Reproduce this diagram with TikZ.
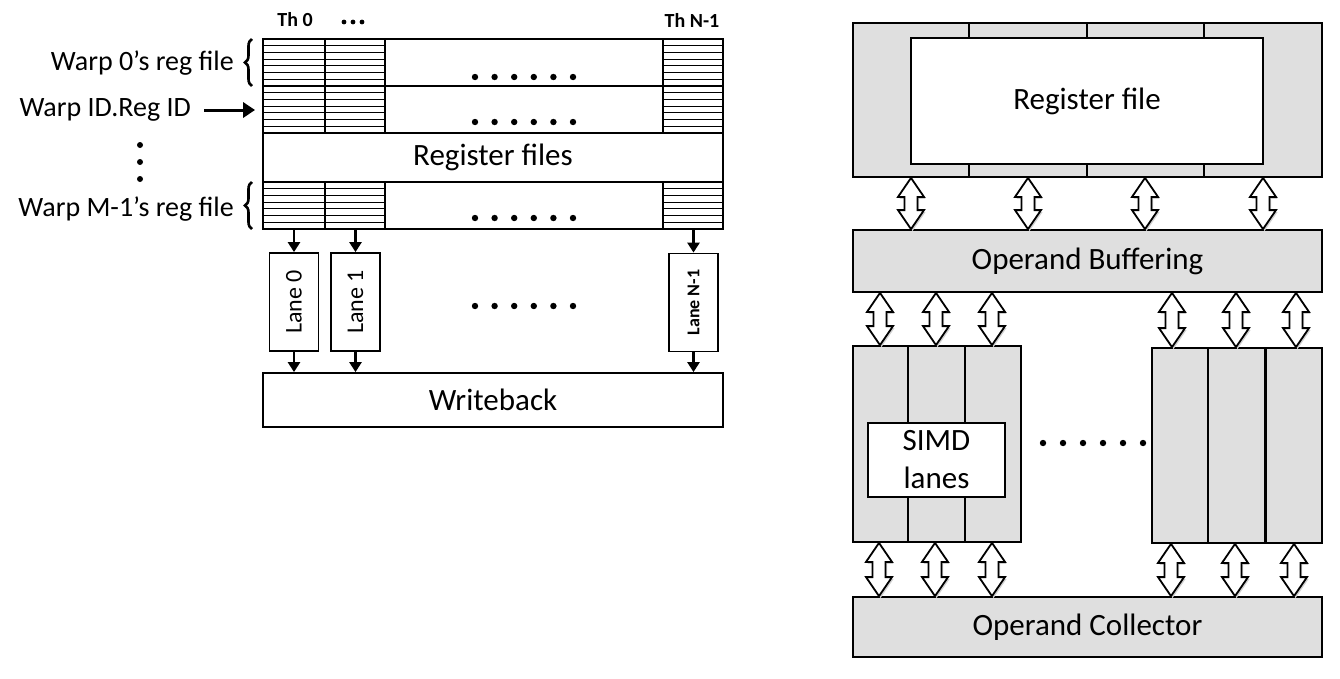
\documentclass[tikz,border=0pt]{standalone}
\usepackage{fontspec}
\setmainfont{Carlito}
\usetikzlibrary{calc,arrows.meta,decorations.pathreplacing}
\definecolor{panel}{HTML}{DFDFDF}
\tikzset{
  box/.style={draw, rectangle, line width=1.8pt, inner sep=0pt, fill=white,
    font=\fontsize{31}{38}\selectfont},
  graybox/.style={box, fill=panel},
  hatched/.style={draw, rectangle, line width=1.8pt, inner sep=0pt, fill=white,
    path picture={\foreach \k in {1,...,6}{
      \draw[line width=1.2pt]
        ($(path picture bounding box.north west)!\k/7!(path picture bounding box.south west)$) --
        ($(path picture bounding box.north east)!\k/7!(path picture bounding box.south east)$);}}},
  lane/.style={box, minimum width=98pt, minimum height=49pt, rotate=90,
    font=\fontsize{24}{28}\selectfont},
  arr/.style={line width=2.6pt, -{Triangle[length=10pt,width=12pt]}},
  brace/.style={decorate, decoration={brace, amplitude=7pt}, line width=2.6pt},
  biarrow/.style={draw, line width=1.8pt, fill=white,
    preaction={fill=black!18, transform canvas={shift={(1.5pt,-2pt)}}},
    to path={let \p1=(\tikztostart), \p2=(\tikztotarget) in
      (\x1,\y1) -- (\x1+13pt,\y1-19pt) -- (\x1+6.5pt,\y1-19pt) -- (\x1+6.5pt,\y2+19pt)
      -- (\x1+13pt,\y2+19pt) -- (\x1,\y2) -- (\x1-13pt,\y2+19pt) -- (\x1-6.5pt,\y2+19pt)
      -- (\x1-6.5pt,\y1-19pt) -- (\x1-13pt,\y1-19pt) -- cycle}},
  warplabel/.style={anchor=east, inner sep=0pt, font=\fontsize{28}{32}\selectfont},
  thlabel/.style={inner sep=0pt, font=\bfseries\fontsize{20}{24}\selectfont},
}
\begin{document}
\begin{tikzpicture}[x=1pt,y=-1pt]
\useasboundingbox (0,0) rectangle (1340,678);
% left: register files per warp
\node[box, minimum width=460pt, minimum height=47pt] (w0) at (493,62.5) {};
\node[box, minimum width=460pt, minimum height=47pt] (w1) at (493,109.5) {};
\node[box, minimum width=460pt, minimum height=49pt] (rfs) at (493,157.5) {Register files};
\node[box, minimum width=460pt, minimum height=47pt] (wm) at (493,205.5) {};
\foreach \r in {w0,w1,wm}{
  \node[hatched, minimum width=62pt, minimum height=47pt] (\r-a) at (\r.center -| 294,0) {};
  \node[hatched, minimum width=60pt, minimum height=47pt] (\r-b) at (\r.center -| 355,0) {};
  \node[hatched, minimum width=60pt, minimum height=47pt] (\r-n) at (\r.center -| 693,0) {};
}
\foreach \y in {77,122,218,306}
  \foreach \i in {0,...,5}
    \fill (475+\i*19.6,\y) circle (3.2pt);
\node[thlabel] (th0) at (295,20) {Th 0};
\node[thlabel] (thn) at (692,20) {Th N-1};
\foreach \x in {344,353,362}
  \fill (\x,22) circle (2.4pt);
% labels on the left
\node[warplabel] (l0) at (234,63) {Warp 0’s reg file};
\node[warplabel] (lid) at (191,110) {Warp ID.Reg ID};
\node[warplabel] (lm) at (234,209) {Warp M-1’s reg file};
\draw[brace] (252,86) -- (252,39);
\draw[brace] (252,229) -- (252,182);
\draw[line width=3pt, -{Triangle[length=12pt,width=15pt]}, shorten <=13pt, shorten >=7pt]
  (lid.east) -- (w1.west |- lid.east);
\foreach \y in {145,162,179}
  \fill (140,\y) circle (3pt);
% lanes and writeback
\node[lane] (lane0) at (294,302) {Lane 0};
\node[lane] (lane1) at (355.5,302) {Lane 1};
\node[lane, font=\bfseries\fontsize{18}{22}\selectfont] (lanen) at (693.5,302.5) {Lane N-1};
\node[box, minimum width=460pt, minimum height=54pt] (wb) at (493,400) {Writeback};
\foreach \l in {lane0,lane1,lanen}{
  \draw[arr] (wm.south -| \l) -- (\l.east);
  \draw[arr] (\l.west) -- (wb.north -| \l);
}
% right: register file with operand buffering
\node[graybox, minimum width=469pt, minimum height=154pt] (rfo) at (1087.5,100) {};
\node[box, minimum width=352pt, minimum height=126pt] (rf) at (1087,101) {Register file};
\foreach \x in {969,1087,1204}{
  \coordinate (d) at (\x,0);
  \draw[line width=1.8pt] (d |- rfo.north) -- (d |- rf.north);
  \draw[line width=1.8pt] (d |- rf.south) -- (d |- rfo.south);
}
\node[graybox, minimum width=469pt, minimum height=62pt] (ob) at (1087.5,261) {Operand Buffering};
\node[graybox, minimum width=55pt, minimum height=196pt] (s1) at (880.5,444) {};
\node[graybox, minimum width=57pt, minimum height=196pt] (s2) at (936.5,444) {};
\node[graybox, minimum width=56pt, minimum height=196pt] (s3) at (993,444) {};
\node[box, minimum width=137pt, minimum height=74pt, align=center] (simd) at (936.5,460) {SIMD\\lanes};
\node[graybox, minimum width=56pt, minimum height=195pt] (t1) at (1180,445.5) {};
\node[graybox, minimum width=57pt, minimum height=195pt] (t2) at (1236.5,445.5) {};
\node[graybox, minimum width=56pt, minimum height=195pt] (t3) at (1294,445.5) {};
\foreach \i in {0,...,5}
  \fill (1043+\i*20,443) circle (3.2pt);
\node[graybox, minimum width=469pt, minimum height=60pt] (oc) at (1087.5,627) {Operand Collector};
\foreach \x in {911,1028,1145,1263}{
  \coordinate (c) at (\x,0);
  \draw[biarrow] (rfo.south -| c) to (ob.north -| c);
}
\foreach \x/\s in {880/s1,936/s2,992/s3,1172/t1,1236/t2,1296/t3}{
  \coordinate (c) at (\x,0);
  \draw[biarrow] (ob.south -| c) to (\s.north -| c);
}
\foreach \x/\s in {879/s1,935/s2,992/s3,1171/t1,1235/t2,1294/t3}{
  \coordinate (c) at (\x,0);
  \draw[biarrow] (\s.south -| c) to (oc.north -| c);
}
\end{tikzpicture}
\end{document}
